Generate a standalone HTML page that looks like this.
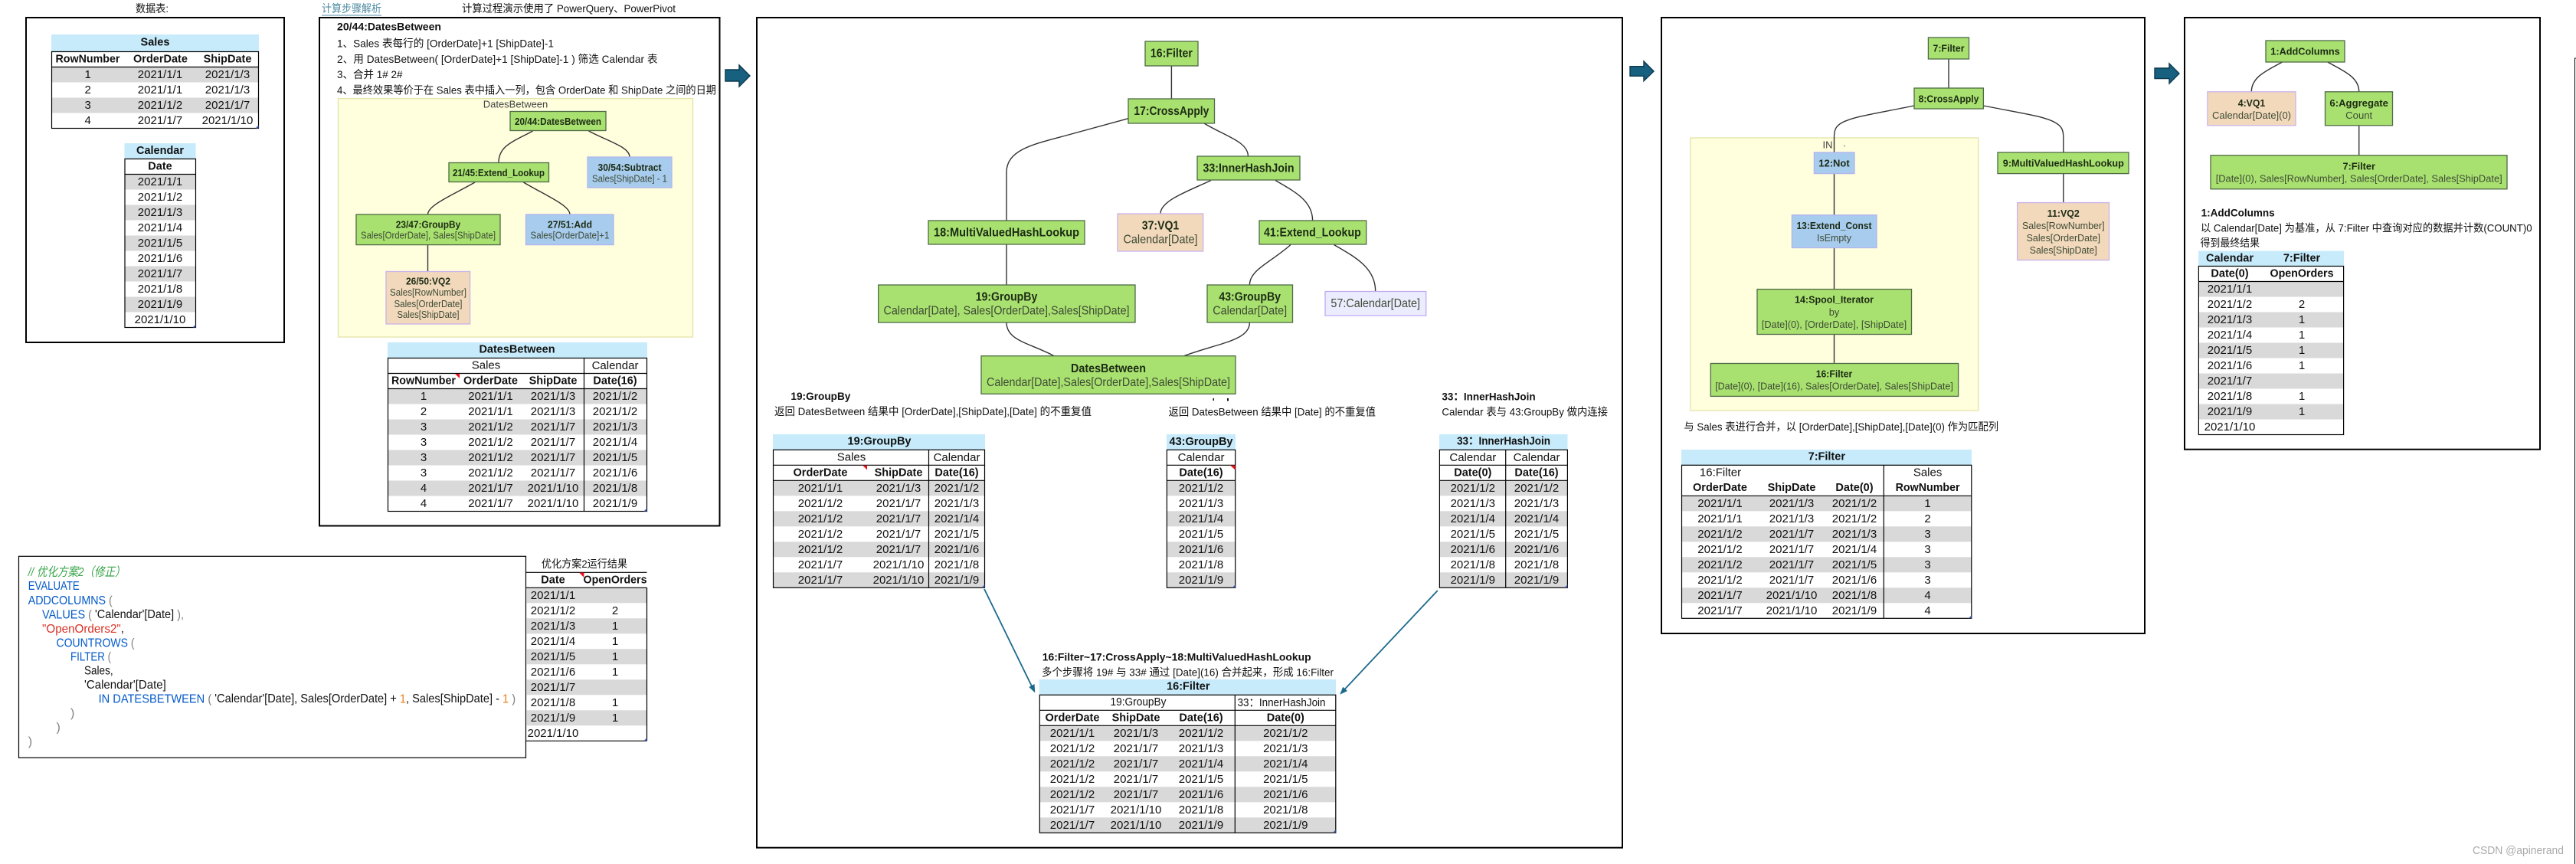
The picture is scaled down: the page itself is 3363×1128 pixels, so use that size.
<!DOCTYPE html>
<html lang="zh"><head><meta charset="utf-8"><title>DatesBetween</title>
<style>
html,body{margin:0;padding:0;background:#fff}
svg{display:block}
text{font-family:"Liberation Sans","Noto Sans CJK SC",sans-serif;dominant-baseline:central;fill:#111}
.m{text-anchor:middle}
.d{font-size:15px;text-anchor:middle}
.b{font-size:14.5px;font-weight:bold;text-anchor:middle}
.l{font-size:14px}
.lb{font-size:14px;font-weight:bold}
.nt{font-size:13px;font-weight:bold;text-anchor:middle;fill:#1c2b14}
.ns{font-size:13px;text-anchor:middle;fill:#3d4a35}
.nb{font-size:16px;font-weight:bold;text-anchor:middle;fill:#1c2b14}
.nr{font-size:16px;text-anchor:middle;fill:#3d4a35}
.box{fill:none;stroke:#000;stroke-width:2}
.n{fill:#a9e170;stroke:#4f6b45;stroke-width:1.3}
.v{fill:#a8ccee;stroke:#b3b3ee;stroke-width:1.3}
.p{fill:#f2d9bc;stroke:#c9b2ea;stroke-width:1.3}
.c{fill:#ececff;stroke:#bfaaf0;stroke-width:1.3}
.y{fill:#ffffde;stroke:#e3e3a8;stroke-width:1.3}
.e{fill:none;stroke:#333;stroke-width:1.4}
.h{fill:#c7ebfb}
.g{fill:#d9d9d9}
.tb{fill:none;stroke:#000;stroke-width:1.2}
.ln{stroke:#000;stroke-width:1.2}
.ar{fill:#17607f;stroke:#0c3a4f;stroke-width:1.4}
.r{fill:#e8121c}
.q{fill:#3f5aa8}
.k{fill:#035aca}
.a{fill:#808080}
.o{fill:#ee7f18}
.co{font-size:16px}
</style></head><body>
<svg xmlns="http://www.w3.org/2000/svg" width="3363" height="1128" viewBox="0 0 3363 1128">
<rect width="3363" height="1128" fill="#fff"/>

<!-- Box A -->
<text class="m" x="198.5" y="11" font-size="14" textLength="43" lengthAdjust="spacingAndGlyphs">数据表:</text>
<rect class="box" x="34" y="23" width="337" height="424"/>
<rect class="h" x="67" y="45" width="271" height="22"/>
<rect class="g" x="67.5" y="87.5" width="270" height="20"/><rect class="g" x="67.5" y="127.5" width="270" height="20"/>
<rect class="tb" x="67.5" y="67.5" width="270" height="100"/><line class="ln" x1="67.5" y1="87.5" x2="337.5" y2="87.5"/>
<text class="b" x="202.5" y="55.5">Sales</text>
<text class="b" x="114.5" y="77.5" textLength="84" lengthAdjust="spacingAndGlyphs">RowNumber</text><text class="b" x="209.5" y="77.5">OrderDate</text><text class="b" x="297" y="77.5">ShipDate</text>
<text class="d" x="114.7" y="97.5">1</text><text class="d" x="209" y="97.5">2021/1/1</text><text class="d" x="297" y="97.5">2021/1/3</text>
<text class="d" x="114.7" y="117.5">2</text><text class="d" x="209" y="117.5">2021/1/1</text><text class="d" x="297" y="117.5">2021/1/3</text>
<text class="d" x="114.7" y="137.5">3</text><text class="d" x="209" y="137.5">2021/1/2</text><text class="d" x="297" y="137.5">2021/1/7</text>
<text class="d" x="114.7" y="157.5">4</text><text class="d" x="209" y="157.5">2021/1/7</text><text class="d" x="297" y="157.5">2021/1/10</text>
<polygon class="q" points="337.5,163.5 337.5,167.5 333.5,167.5"/>

<rect class="h" x="162.5" y="187" width="93" height="20"/>
<rect class="g" x="163" y="227.5" width="92.5" height="20"/><rect class="g" x="163" y="267.5" width="92.5" height="20"/><rect class="g" x="163" y="307.5" width="92.5" height="20"/><rect class="g" x="163" y="347.5" width="92.5" height="20"/><rect class="g" x="163" y="387.5" width="92.5" height="20"/>
<rect class="tb" x="163" y="207.5" width="92.5" height="220"/><line class="ln" x1="163" y1="227.5" x2="255.5" y2="227.5"/>
<text class="b" x="209" y="197">Calendar</text><text class="b" x="209" y="217.5">Date</text>
<text class="d" x="209" y="237.5">2021/1/1</text><text class="d" x="209" y="257.5">2021/1/2</text><text class="d" x="209" y="277.5">2021/1/3</text><text class="d" x="209" y="297.5">2021/1/4</text><text class="d" x="209" y="317.5">2021/1/5</text><text class="d" x="209" y="337.5">2021/1/6</text><text class="d" x="209" y="357.5">2021/1/7</text><text class="d" x="209" y="377.5">2021/1/8</text><text class="d" x="209" y="397.5">2021/1/9</text><text class="d" x="209" y="417.5">2021/1/10</text>
<polygon class="q" points="255.5,423.5 255.5,427.5 251.5,427.5"/>

<!-- Box B -->
<text x="420" y="11" font-size="14" fill="#4f8ca3" style="fill:#4f8ca3" textLength="78" lengthAdjust="spacingAndGlyphs">计算步骤解析</text>
<line x1="420" y1="20" x2="498" y2="20" stroke="#4f8ca3" stroke-width="1"/>
<text x="603" y="11" font-size="14" textLength="279" lengthAdjust="spacingAndGlyphs">计算过程演示使用了 PowerQuery、PowerPivot</text>
<rect class="box" x="417" y="23" width="522.5" height="663.5"/>
<text class="lb" x="440" y="34.5" textLength="136" lengthAdjust="spacingAndGlyphs">20/44:DatesBetween</text>
<text class="l" x="440" y="56.3" textLength="283" lengthAdjust="spacingAndGlyphs">1、Sales 表每行的 [OrderDate]+1 [ShipDate]-1</text>
<text class="l" x="440" y="77" textLength="418.5" lengthAdjust="spacingAndGlyphs">2、用 DatesBetween( [OrderDate]+1 [ShipDate]-1 ) 筛选 Calendar 表</text>
<text class="l" x="440" y="97" textLength="85.5" lengthAdjust="spacingAndGlyphs">3、合并 1# 2#</text>
<text class="l" x="440" y="117.4" textLength="495" lengthAdjust="spacingAndGlyphs">4、最终效果等价于在 Sales 表中插入一列，包含 OrderDate 和 ShipDate 之间的日期</text>
<rect class="y" x="441.5" y="128.6" width="463" height="311.4"/>
<text class="m" x="673" y="136" font-size="13" style="fill:#444">DatesBetween</text>
<path class="e" d="M695.6 171C670 185 651 190 651 212.5"/>
<path class="e" d="M768.5 171C795 185 822 192 822 205"/>
<path class="e" d="M620 238C590 255 558.5 268 558.5 280"/>
<path class="e" d="M683.4 238C712 255 744 268 744 280"/>
<line class="e" x1="558.5" y1="320" x2="558.5" y2="354.5"/>
<rect class="n" x="666" y="145.5" width="125" height="25"/>
<rect class="v" x="767" y="205" width="110" height="40"/>
<rect class="n" x="586" y="212.5" width="130.5" height="25"/>
<rect class="n" x="465" y="280" width="188" height="39.6"/>
<rect class="v" x="686.5" y="280" width="114.5" height="39.6"/>
<rect class="p" x="504" y="354.5" width="109.6" height="68.5"/>
<text class="nt" x="728.5" y="158.5" textLength="113" lengthAdjust="spacingAndGlyphs">20/44:DatesBetween</text>
<text class="nt" x="822" y="218.7" textLength="83" lengthAdjust="spacingAndGlyphs">30/54:Subtract</text>
<text class="ns" x="822" y="233" textLength="98" lengthAdjust="spacingAndGlyphs">Sales[ShipDate] - 1</text>
<text class="nt" x="651" y="225.4" textLength="120" lengthAdjust="spacingAndGlyphs">21/45:Extend_Lookup</text>
<text class="nt" x="559" y="293" textLength="84.5" lengthAdjust="spacingAndGlyphs">23/47:GroupBy</text>
<text class="ns" x="559" y="307" textLength="176" lengthAdjust="spacingAndGlyphs">Sales[OrderDate], Sales[ShipDate]</text>
<text class="nt" x="744" y="293" textLength="58" lengthAdjust="spacingAndGlyphs">27/51:Add</text>
<text class="ns" x="744" y="307" textLength="103" lengthAdjust="spacingAndGlyphs">Sales[OrderDate]+1</text>
<text class="nt" x="559" y="367" textLength="58" lengthAdjust="spacingAndGlyphs">26/50:VQ2</text>
<text class="ns" x="559" y="381.7" textLength="100" lengthAdjust="spacingAndGlyphs">Sales[RowNumber]</text>
<text class="ns" x="559" y="396.4" textLength="89" lengthAdjust="spacingAndGlyphs">Sales[OrderDate]</text>
<text class="ns" x="559" y="410.7" textLength="81" lengthAdjust="spacingAndGlyphs">Sales[ShipDate]</text>

<rect class="h" x="506" y="447" width="339" height="20.5"/>
<rect class="g" x="506.5" y="507.5" width="338" height="20"/><rect class="g" x="506.5" y="547.5" width="338" height="20"/><rect class="g" x="506.5" y="587.5" width="338" height="20"/><rect class="g" x="506.5" y="627.5" width="338" height="20"/>
<rect class="tb" x="506.5" y="467.5" width="338" height="200"/>
<line class="ln" x1="506.5" y1="487.5" x2="844.5" y2="487.5"/><line class="ln" x1="506.5" y1="507.5" x2="844.5" y2="507.5"/><line class="ln" x1="762.5" y1="467.5" x2="762.5" y2="667.5"/>
<polygon class="r" points="594,488 600,488 600,494"/><polygon class="q" points="844.5,663.5 844.5,667.5 840.5,667.5"/>
<text class="b" x="675" y="456.5">DatesBetween</text>
<text class="d" x="634.5" y="477" font-size="14">Sales</text><text class="d" x="803" y="477.5">Calendar</text>
<text class="b" x="553" y="497.5" textLength="84" lengthAdjust="spacingAndGlyphs">RowNumber</text><text class="b" x="640.5" y="497.5">OrderDate</text><text class="b" x="722" y="497.5">ShipDate</text><text class="b" x="803" y="497.5">Date(16)</text>
<text class="d" x="553" y="517.5">1</text><text class="d" x="640.5" y="517.5">2021/1/1</text><text class="d" x="722" y="517.5">2021/1/3</text><text class="d" x="803" y="517.5">2021/1/2</text>
<text class="d" x="553" y="537.5">2</text><text class="d" x="640.5" y="537.5">2021/1/1</text><text class="d" x="722" y="537.5">2021/1/3</text><text class="d" x="803" y="537.5">2021/1/2</text>
<text class="d" x="553" y="557.5">3</text><text class="d" x="640.5" y="557.5">2021/1/2</text><text class="d" x="722" y="557.5">2021/1/7</text><text class="d" x="803" y="557.5">2021/1/3</text>
<text class="d" x="553" y="577.5">3</text><text class="d" x="640.5" y="577.5">2021/1/2</text><text class="d" x="722" y="577.5">2021/1/7</text><text class="d" x="803" y="577.5">2021/1/4</text>
<text class="d" x="553" y="597.5">3</text><text class="d" x="640.5" y="597.5">2021/1/2</text><text class="d" x="722" y="597.5">2021/1/7</text><text class="d" x="803" y="597.5">2021/1/5</text>
<text class="d" x="553" y="617.5">3</text><text class="d" x="640.5" y="617.5">2021/1/2</text><text class="d" x="722" y="617.5">2021/1/7</text><text class="d" x="803" y="617.5">2021/1/6</text>
<text class="d" x="553" y="637.5">4</text><text class="d" x="640.5" y="637.5">2021/1/7</text><text class="d" x="722" y="637.5">2021/1/10</text><text class="d" x="803" y="637.5">2021/1/8</text>
<text class="d" x="553" y="657.5">4</text><text class="d" x="640.5" y="657.5">2021/1/7</text><text class="d" x="722" y="657.5">2021/1/10</text><text class="d" x="803" y="657.5">2021/1/9</text>

<!-- Code box -->
<rect x="24.5" y="726.3" width="662" height="263" fill="#fff" stroke="#000" stroke-width="1.2"/>
<g class="co">
<text x="36.7" y="747.3" font-style="italic" style="fill:#3aa54a" textLength="127" lengthAdjust="spacingAndGlyphs">// 优化方案2（修正）</text>
<text x="36.7" y="765.7" class="k" style="fill:#035aca" textLength="67" lengthAdjust="spacingAndGlyphs">EVALUATE</text>
<text x="36.7" y="784" textLength="110" lengthAdjust="spacingAndGlyphs"><tspan class="k">ADDCOLUMNS</tspan> <tspan class="a">(</tspan></text>
<text x="55" y="802.7" textLength="185" lengthAdjust="spacingAndGlyphs"><tspan class="k">VALUES</tspan> <tspan class="a">(</tspan> 'Calendar'[Date] <tspan class="a">),</tspan></text>
<text x="55" y="821" textLength="107" lengthAdjust="spacingAndGlyphs"><tspan style="fill:#d93124">"OpenOrders2"</tspan>,</text>
<text x="73.5" y="839.3" textLength="102" lengthAdjust="spacingAndGlyphs"><tspan class="k">COUNTROWS</tspan> <tspan class="a">(</tspan></text>
<text x="92" y="857.7" textLength="53" lengthAdjust="spacingAndGlyphs"><tspan class="k">FILTER</tspan> <tspan class="a">(</tspan></text>
<text x="110" y="876" textLength="37.6" lengthAdjust="spacingAndGlyphs">Sales,</text>
<text x="110" y="894.3" textLength="106.8" lengthAdjust="spacingAndGlyphs">'Calendar'[Date]</text>
<text x="128.6" y="912.7" textLength="544.5" lengthAdjust="spacingAndGlyphs"><tspan class="k">IN DATESBETWEEN</tspan> <tspan class="a">(</tspan> 'Calendar'[Date], Sales[OrderDate] + <tspan class="o">1</tspan>, Sales[ShipDate] - <tspan class="o">1</tspan> <tspan class="a">)</tspan></text>
<text x="92" y="931.7" class="a" style="fill:#808080">)</text>
<text x="73.5" y="950" class="a" style="fill:#808080">)</text>
<text x="36.7" y="968.3" class="a" style="fill:#808080">)</text>
</g>
<text x="707" y="736" font-size="14" textLength="112" lengthAdjust="spacingAndGlyphs">优化方案2运行结果</text>
<rect class="g" x="687" y="767.3" width="157.5" height="20"/><rect class="g" x="687" y="807.3" width="157.5" height="20"/><rect class="g" x="687" y="847.3" width="157.5" height="20"/><rect class="g" x="687" y="887.3" width="157.5" height="20"/><rect class="g" x="687" y="927.3" width="157.5" height="20"/>
<line class="ln" x1="687" y1="747.3" x2="844.5" y2="747.3"/><line class="ln" x1="687" y1="767.3" x2="844.5" y2="767.3"/><line class="ln" x1="687" y1="967.3" x2="844.5" y2="967.3"/><line class="ln" x1="844.5" y1="767.3" x2="844.5" y2="967.3"/>
<polygon class="r" points="756,747.5 762.4,747.5 762.4,754"/><polygon class="q" points="844.5,963.3 844.5,967.3 840.5,967.3"/>
<text class="b" x="722" y="757.5">Date</text><text class="b" x="803" y="757.5" textLength="83" lengthAdjust="spacingAndGlyphs">OpenOrders</text>
<text class="d" x="722" y="777.3">2021/1/1</text>
<text class="d" x="722" y="797.3">2021/1/2</text><text class="d" x="803" y="797.3">2</text>
<text class="d" x="722" y="817.3">2021/1/3</text><text class="d" x="803" y="817.3">1</text>
<text class="d" x="722" y="837.3">2021/1/4</text><text class="d" x="803" y="837.3">1</text>
<text class="d" x="722" y="857.3">2021/1/5</text><text class="d" x="803" y="857.3">1</text>
<text class="d" x="722" y="877.3">2021/1/6</text><text class="d" x="803" y="877.3">1</text>
<text class="d" x="722" y="897.3">2021/1/7</text>
<text class="d" x="722" y="917.3">2021/1/8</text><text class="d" x="803" y="917.3">1</text>
<text class="d" x="722" y="937.3">2021/1/9</text><text class="d" x="803" y="937.3">1</text>
<text class="d" x="722" y="957.3">2021/1/10</text>

<!-- Arrows -->
<polygon class="ar" points="947,91 965,91 965,85 979,99 965,113 965,106 947,106"/>
<polygon class="ar" points="2128,86.7 2146,86.7 2146,80 2159,93 2146,105.7 2146,99.3 2128,99.3"/>
<polygon class="ar" points="2813,89 2832,89 2832,83 2845,96 2832,109 2832,102.6 2813,102.6"/>

<!-- Box C -->
<rect class="box" x="988" y="23" width="1130" height="1083.7"/>
<path class="e" d="M1529.4 86V129"/>
<path class="e" d="M1473 154.7L1395 176C1350 188 1314 195 1314 225V288"/>
<path class="e" d="M1572 161C1600 178 1629.4 185 1629.4 204"/>
<path class="e" d="M1581 235.5C1550 250 1515 262 1515 279"/>
<path class="e" d="M1665 235.5C1690 250 1713.6 262 1713.6 288"/>
<path class="e" d="M1685 319.5C1660 342 1631.4 352 1631.4 372"/>
<path class="e" d="M1741.7 319.6C1770 336 1795.7 350 1795.7 380.5"/>
<path class="e" d="M1314 319V372"/>
<path class="e" d="M1314 421C1314 445 1345 448 1376 464.7"/>
<path class="e" d="M1631.4 421C1631.4 445 1590 448 1545.7 464.7"/>
<rect class="n" x="1495" y="54" width="69" height="32"/>
<rect class="n" x="1473" y="129" width="112.5" height="32"/>
<rect class="n" x="1563" y="204" width="134" height="31"/>
<rect class="n" x="1212" y="288" width="204" height="31"/>
<rect class="p" x="1459" y="279" width="111.7" height="49"/>
<rect class="n" x="1644" y="288" width="139.7" height="31"/>
<rect class="c" x="1730" y="380.5" width="131.7" height="31.5"/>
<rect class="n" x="1146.7" y="372" width="335.3" height="49"/>
<rect class="n" x="1576" y="372" width="111.5" height="49"/>
<rect class="n" x="1281" y="464.7" width="332" height="49.6"/>
<text class="nb" x="1529.4" y="70" textLength="55" lengthAdjust="spacingAndGlyphs">16:Filter</text>
<text class="nb" x="1529.4" y="145.7" textLength="98" lengthAdjust="spacingAndGlyphs">17:CrossApply</text>
<text class="nb" x="1630" y="220" textLength="119" lengthAdjust="spacingAndGlyphs">33:InnerHashJoin</text>
<text class="nb" x="1314" y="304" textLength="190" lengthAdjust="spacingAndGlyphs">18:MultiValuedHashLookup</text>
<text class="nb" x="1515" y="295" textLength="48.5" lengthAdjust="spacingAndGlyphs">37:VQ1</text>
<text class="nr" x="1515" y="313" textLength="97" lengthAdjust="spacingAndGlyphs">Calendar[Date]</text>
<text class="nb" x="1713.4" y="304" textLength="126.7" lengthAdjust="spacingAndGlyphs">41:Extend_Lookup</text>
<text class="nr" x="1795.7" y="396.7" textLength="116.7" lengthAdjust="spacingAndGlyphs">57:Calendar[Date]</text>
<text class="nb" x="1314" y="388" textLength="80.6" lengthAdjust="spacingAndGlyphs">19:GroupBy</text>
<text class="nr" x="1314" y="406" textLength="321" lengthAdjust="spacingAndGlyphs">Calendar[Date], Sales[OrderDate],Sales[ShipDate]</text>
<text class="nb" x="1631.7" y="388" textLength="80.6" lengthAdjust="spacingAndGlyphs">43:GroupBy</text>
<text class="nr" x="1631.7" y="406" textLength="97" lengthAdjust="spacingAndGlyphs">Calendar[Date]</text>
<text class="nb" x="1447" y="481.7" textLength="98" lengthAdjust="spacingAndGlyphs">DatesBetween</text>
<text class="nr" x="1447" y="499.3" textLength="318" lengthAdjust="spacingAndGlyphs">Calendar[Date],Sales[OrderDate],Sales[ShipDate]</text>
<rect x="1583.5" y="520" width="1.5" height="3" fill="#111"/><rect x="1602" y="520" width="2" height="3.5" fill="#111"/>

<text class="lb" x="1032.4" y="517" textLength="78" lengthAdjust="spacingAndGlyphs">19:GroupBy</text>
<text class="l" x="1011" y="537" textLength="414" lengthAdjust="spacingAndGlyphs">返回 DatesBetween 结果中 [OrderDate],[ShipDate],[Date] 的不重复值</text>
<text class="l" x="1525.5" y="537.3" textLength="270.5" lengthAdjust="spacingAndGlyphs">返回 DatesBetween 结果中 [Date] 的不重复值</text>
<text class="lb" x="1882.4" y="517.3" textLength="122.3" lengthAdjust="spacingAndGlyphs">33：InnerHashJoin</text>
<text class="l" x="1882.4" y="537.3" textLength="216.6" lengthAdjust="spacingAndGlyphs">Calendar 表与 43:GroupBy 做内连接</text>

<!-- 19:GroupBy table -->
<rect class="h" x="1009" y="567" width="277" height="20"/>
<rect class="g" x="1009.5" y="627.3" width="276" height="20"/><rect class="g" x="1009.5" y="667.3" width="276" height="20"/><rect class="g" x="1009.5" y="707.3" width="276" height="20"/><rect class="g" x="1009.5" y="747.3" width="276" height="20"/>
<rect class="tb" x="1009.5" y="587.3" width="276" height="180"/>
<line class="ln" x1="1009.5" y1="607.3" x2="1285.5" y2="607.3"/><line class="ln" x1="1009.5" y1="627.3" x2="1285.5" y2="627.3"/><line class="ln" x1="1212.5" y1="587.3" x2="1212.5" y2="767.3"/>
<polygon class="r" points="1126,607.5 1132,607.5 1132,613.5"/><polygon class="q" points="1285.5,763.3 1285.5,767.3 1281.5,767.3"/>
<text class="b" x="1148" y="576.5">19:GroupBy</text>
<text class="d" x="1111.5" y="597" font-size="14">Sales</text><text class="d" x="1249" y="597.3">Calendar</text>
<text class="b" x="1071" y="617.3">OrderDate</text><text class="b" x="1173" y="617.3">ShipDate</text><text class="b" x="1249" y="617.3">Date(16)</text>
<text class="d" x="1071" y="637.3">2021/1/1</text><text class="d" x="1173" y="637.3">2021/1/3</text><text class="d" x="1249" y="637.3">2021/1/2</text>
<text class="d" x="1071" y="657.3">2021/1/2</text><text class="d" x="1173" y="657.3">2021/1/7</text><text class="d" x="1249" y="657.3">2021/1/3</text>
<text class="d" x="1071" y="677.3">2021/1/2</text><text class="d" x="1173" y="677.3">2021/1/7</text><text class="d" x="1249" y="677.3">2021/1/4</text>
<text class="d" x="1071" y="697.3">2021/1/2</text><text class="d" x="1173" y="697.3">2021/1/7</text><text class="d" x="1249" y="697.3">2021/1/5</text>
<text class="d" x="1071" y="717.3">2021/1/2</text><text class="d" x="1173" y="717.3">2021/1/7</text><text class="d" x="1249" y="717.3">2021/1/6</text>
<text class="d" x="1071" y="737.3">2021/1/7</text><text class="d" x="1173" y="737.3">2021/1/10</text><text class="d" x="1249" y="737.3">2021/1/8</text>
<text class="d" x="1071" y="757.3">2021/1/7</text><text class="d" x="1173" y="757.3">2021/1/10</text><text class="d" x="1249" y="757.3">2021/1/9</text>

<!-- 43:GroupBy table -->
<rect class="h" x="1523" y="567" width="90" height="20"/>
<rect class="g" x="1523.4" y="627.3" width="89.3" height="20"/><rect class="g" x="1523.4" y="667.3" width="89.3" height="20"/><rect class="g" x="1523.4" y="707.3" width="89.3" height="20"/><rect class="g" x="1523.4" y="747.3" width="89.3" height="20"/>
<rect class="tb" x="1523.4" y="587.3" width="89.3" height="180"/>
<line class="ln" x1="1523.4" y1="607.3" x2="1612.7" y2="607.3"/><line class="ln" x1="1523.4" y1="627.3" x2="1612.7" y2="627.3"/>
<polygon class="r" points="1606,607.5 1612.5,607.5 1612.5,613.5"/><polygon class="q" points="1612.7,763.3 1612.7,767.3 1608.7,767.3"/>
<text class="b" x="1568" y="577">43:GroupBy</text><text class="d" x="1568" y="597.3">Calendar</text><text class="b" x="1568" y="617.3">Date(16)</text>
<text class="d" x="1568" y="637.3">2021/1/2</text><text class="d" x="1568" y="657.3">2021/1/3</text><text class="d" x="1568" y="677.3">2021/1/4</text><text class="d" x="1568" y="697.3">2021/1/5</text><text class="d" x="1568" y="717.3">2021/1/6</text><text class="d" x="1568" y="737.3">2021/1/8</text><text class="d" x="1568" y="757.3">2021/1/9</text>

<!-- 33 table -->
<rect class="h" x="1879" y="567" width="167.5" height="20"/>
<rect class="g" x="1879.4" y="627.3" width="167" height="20"/><rect class="g" x="1879.4" y="667.3" width="167" height="20"/><rect class="g" x="1879.4" y="707.3" width="167" height="20"/><rect class="g" x="1879.4" y="747.3" width="167" height="20"/>
<rect class="tb" x="1879.4" y="587.3" width="167" height="180"/>
<line class="ln" x1="1879.4" y1="607.3" x2="2046.4" y2="607.3"/><line class="ln" x1="1879.4" y1="627.3" x2="2046.4" y2="627.3"/><line class="ln" x1="1965.7" y1="587.3" x2="1965.7" y2="767.3"/>
<polygon class="q" points="2046.4,763.3 2046.4,767.3 2042.4,767.3"/>
<text class="b" x="1963" y="576.5" textLength="122" lengthAdjust="spacingAndGlyphs">33：InnerHashJoin</text>
<text class="d" x="1922.8" y="597.3">Calendar</text><text class="d" x="2006" y="597.3">Calendar</text>
<text class="b" x="1922.8" y="617.3">Date(0)</text><text class="b" x="2006" y="617.3">Date(16)</text>
<text class="d" x="1922.8" y="637.3">2021/1/2</text><text class="d" x="2006" y="637.3">2021/1/2</text>
<text class="d" x="1922.8" y="657.3">2021/1/3</text><text class="d" x="2006" y="657.3">2021/1/3</text>
<text class="d" x="1922.8" y="677.3">2021/1/4</text><text class="d" x="2006" y="677.3">2021/1/4</text>
<text class="d" x="1922.8" y="697.3">2021/1/5</text><text class="d" x="2006" y="697.3">2021/1/5</text>
<text class="d" x="1922.8" y="717.3">2021/1/6</text><text class="d" x="2006" y="717.3">2021/1/6</text>
<text class="d" x="1922.8" y="737.3">2021/1/8</text><text class="d" x="2006" y="737.3">2021/1/8</text>
<text class="d" x="1922.8" y="757.3">2021/1/9</text><text class="d" x="2006" y="757.3">2021/1/9</text>

<!-- teal arrows -->
<line x1="1285" y1="769" x2="1348" y2="898" stroke="#1b6a8c" stroke-width="1.8"/>
<polygon fill="#1b6a8c" points="1351.3,904.5 1350.5,893 1343.3,897"/>
<line x1="1876.8" y1="771" x2="1754" y2="901.5" stroke="#1b6a8c" stroke-width="1.8"/>
<polygon fill="#1b6a8c" points="1749.3,906.7 1759,902.1 1753.2,896.7"/>

<!-- 16:Filter table -->
<text class="lb" x="1360.7" y="857.7" textLength="351" lengthAdjust="spacingAndGlyphs">16:Filter~17:CrossApply~18:MultiValuedHashLookup</text>
<text class="l" x="1360" y="877.3" textLength="381" lengthAdjust="spacingAndGlyphs">多个步骤将 19# 与 33# 通过 [Date](16) 合并起来，形成 16:Filter</text>
<rect class="h" x="1356.7" y="887" width="387.3" height="20.3"/>
<rect class="g" x="1357.3" y="947.3" width="386.5" height="20"/><rect class="g" x="1357.3" y="987.3" width="386.5" height="20"/><rect class="g" x="1357.3" y="1027.3" width="386.5" height="20"/><rect class="g" x="1357.3" y="1067.3" width="386.5" height="20"/>
<rect class="tb" x="1357.3" y="907.3" width="386.5" height="180"/>
<line class="ln" x1="1357.3" y1="927.3" x2="1743.8" y2="927.3"/><line class="ln" x1="1357.3" y1="947.3" x2="1743.8" y2="947.3"/><line class="ln" x1="1612.3" y1="907.3" x2="1612.3" y2="1087.3"/>
<polygon class="q" points="1743.8,1083.3 1743.8,1087.3 1739.8,1087.3"/>
<text class="b" x="1551.3" y="896.5">16:Filter</text>
<text class="d" x="1486" y="916.7" textLength="73" lengthAdjust="spacingAndGlyphs">19:GroupBy</text><text class="d" x="1673" y="917.3" textLength="115" lengthAdjust="spacingAndGlyphs">33：InnerHashJoin</text>
<text class="b" x="1400" y="937.3">OrderDate</text><text class="b" x="1483" y="937.3">ShipDate</text><text class="b" x="1568" y="937.3">Date(16)</text><text class="b" x="1678.3" y="937.3">Date(0)</text>
<text class="d" x="1400" y="957.3">2021/1/1</text><text class="d" x="1483" y="957.3">2021/1/3</text><text class="d" x="1568" y="957.3">2021/1/2</text><text class="d" x="1678.3" y="957.3">2021/1/2</text>
<text class="d" x="1400" y="977.3">2021/1/2</text><text class="d" x="1483" y="977.3">2021/1/7</text><text class="d" x="1568" y="977.3">2021/1/3</text><text class="d" x="1678.3" y="977.3">2021/1/3</text>
<text class="d" x="1400" y="997.3">2021/1/2</text><text class="d" x="1483" y="997.3">2021/1/7</text><text class="d" x="1568" y="997.3">2021/1/4</text><text class="d" x="1678.3" y="997.3">2021/1/4</text>
<text class="d" x="1400" y="1017.3">2021/1/2</text><text class="d" x="1483" y="1017.3">2021/1/7</text><text class="d" x="1568" y="1017.3">2021/1/5</text><text class="d" x="1678.3" y="1017.3">2021/1/5</text>
<text class="d" x="1400" y="1037.3">2021/1/2</text><text class="d" x="1483" y="1037.3">2021/1/7</text><text class="d" x="1568" y="1037.3">2021/1/6</text><text class="d" x="1678.3" y="1037.3">2021/1/6</text>
<text class="d" x="1400" y="1057.3">2021/1/7</text><text class="d" x="1483" y="1057.3">2021/1/10</text><text class="d" x="1568" y="1057.3">2021/1/8</text><text class="d" x="1678.3" y="1057.3">2021/1/8</text>
<text class="d" x="1400" y="1077.3">2021/1/7</text><text class="d" x="1483" y="1077.3">2021/1/10</text><text class="d" x="1568" y="1077.3">2021/1/9</text><text class="d" x="1678.3" y="1077.3">2021/1/9</text>

<!-- Box D -->
<rect class="box" x="2169" y="23" width="631" height="804"/>
<rect class="y" x="2206.8" y="180" width="375.9" height="356"/>
<path class="e" d="M2544 77V115"/>
<path class="e" d="M2499 138C2450 148 2420 152 2405 160C2396 165 2394.5 170 2394.5 180V199"/>
<path class="e" d="M2589.4 138C2640 148 2670 152 2683 160C2692 165 2693.8 170 2693.8 180V199"/>
<path class="e" d="M2394.5 226V281M2394.5 323V377M2394.5 436V474.5M2693.8 226V264.6"/>
<rect class="n" x="2517.4" y="49" width="53.1" height="28"/>
<rect class="n" x="2499" y="115" width="90.4" height="27"/>
<rect class="v" x="2368.4" y="199" width="52.6" height="27.6"/>
<rect class="n" x="2608" y="199" width="171" height="27.6"/>
<rect class="p" x="2633.6" y="264.6" width="119.9" height="75"/>
<rect class="v" x="2339.4" y="280.7" width="110.6" height="42.8"/>
<rect class="n" x="2294" y="377.6" width="201.5" height="58.9"/>
<rect class="n" x="2233.3" y="474.5" width="323.3" height="42.9"/>
<text class="m" x="2386" y="189" font-size="13" style="fill:#444">IN</text><rect x="2407.5" y="190" width="1.2" height="1.2" fill="#444"/>
<text class="nt" x="2544" y="63" textLength="41" lengthAdjust="spacingAndGlyphs">7:Filter</text>
<text class="nt" x="2544" y="129" textLength="78.7" lengthAdjust="spacingAndGlyphs">8:CrossApply</text>
<text class="nt" x="2394.5" y="213" textLength="40.4" lengthAdjust="spacingAndGlyphs">12:Not</text>
<text class="nt" x="2693.8" y="213" textLength="158" lengthAdjust="spacingAndGlyphs">9:MultiValuedHashLookup</text>
<text class="nt" x="2693.8" y="278.5" textLength="42" lengthAdjust="spacingAndGlyphs">11:VQ2</text>
<text class="ns" x="2693.8" y="294.6" textLength="107.7" lengthAdjust="spacingAndGlyphs">Sales[RowNumber]</text>
<text class="ns" x="2693.8" y="310.7" textLength="96.4" lengthAdjust="spacingAndGlyphs">Sales[OrderDate]</text>
<text class="ns" x="2693.8" y="326.7" textLength="88" lengthAdjust="spacingAndGlyphs">Sales[ShipDate]</text>
<text class="nt" x="2394.5" y="294.6" textLength="98" lengthAdjust="spacingAndGlyphs">13:Extend_Const</text>
<text class="ns" x="2394.5" y="310.7" textLength="45" lengthAdjust="spacingAndGlyphs">IsEmpty</text>
<text class="nt" x="2394.5" y="391" textLength="103" lengthAdjust="spacingAndGlyphs">14:Spool_Iterator</text>
<text class="ns" x="2394.5" y="407.6" textLength="13.5" lengthAdjust="spacingAndGlyphs">by</text>
<text class="ns" x="2394.5" y="423.7" textLength="189.4" lengthAdjust="spacingAndGlyphs">[Date](0), [OrderDate], [ShipDate]</text>
<text class="nt" x="2394.5" y="488" textLength="47.6" lengthAdjust="spacingAndGlyphs">16:Filter</text>
<text class="ns" x="2394.5" y="504" textLength="310.6" lengthAdjust="spacingAndGlyphs">[Date](0), [Date](16), Sales[OrderDate], Sales[ShipDate]</text>
<text class="l" x="2198.4" y="557" textLength="410.6" lengthAdjust="spacingAndGlyphs">与 Sales 表进行合并，以 [OrderDate],[ShipDate],[Date](0) 作为匹配列</text>

<rect class="h" x="2195" y="587" width="379" height="20.4"/>
<rect class="g" x="2195.5" y="647.3" width="378.3" height="20"/><rect class="g" x="2195.5" y="687.3" width="378.3" height="20"/><rect class="g" x="2195.5" y="727.3" width="378.3" height="20"/><rect class="g" x="2195.5" y="767.3" width="378.3" height="20"/>
<rect class="tb" x="2195.5" y="607.3" width="378.3" height="200"/>
<line class="ln" x1="2195.5" y1="647.3" x2="2573.8" y2="647.3"/><line class="ln" x1="2459.3" y1="607.3" x2="2459.3" y2="807.3"/>
<polygon class="q" points="2573.8,803.3 2573.8,807.3 2569.8,807.3"/>
<text class="b" x="2384.8" y="596.5">7:Filter</text>
<text class="d" x="2246" y="617">16:Filter</text><text class="d" x="2516.6" y="617">Sales</text>
<text class="b" x="2245.5" y="637">OrderDate</text><text class="b" x="2339" y="637">ShipDate</text><text class="b" x="2421" y="637">Date(0)</text><text class="b" x="2516.6" y="637" textLength="84" lengthAdjust="spacingAndGlyphs">RowNumber</text>
<text class="d" x="2245.5" y="657.3">2021/1/1</text><text class="d" x="2339" y="657.3">2021/1/3</text><text class="d" x="2421" y="657.3">2021/1/2</text><text class="d" x="2516.6" y="657.3">1</text>
<text class="d" x="2245.5" y="677.3">2021/1/1</text><text class="d" x="2339" y="677.3">2021/1/3</text><text class="d" x="2421" y="677.3">2021/1/2</text><text class="d" x="2516.6" y="677.3">2</text>
<text class="d" x="2245.5" y="697.3">2021/1/2</text><text class="d" x="2339" y="697.3">2021/1/7</text><text class="d" x="2421" y="697.3">2021/1/3</text><text class="d" x="2516.6" y="697.3">3</text>
<text class="d" x="2245.5" y="717.3">2021/1/2</text><text class="d" x="2339" y="717.3">2021/1/7</text><text class="d" x="2421" y="717.3">2021/1/4</text><text class="d" x="2516.6" y="717.3">3</text>
<text class="d" x="2245.5" y="737.3">2021/1/2</text><text class="d" x="2339" y="737.3">2021/1/7</text><text class="d" x="2421" y="737.3">2021/1/5</text><text class="d" x="2516.6" y="737.3">3</text>
<text class="d" x="2245.5" y="757.3">2021/1/2</text><text class="d" x="2339" y="757.3">2021/1/7</text><text class="d" x="2421" y="757.3">2021/1/6</text><text class="d" x="2516.6" y="757.3">3</text>
<text class="d" x="2245.5" y="777.3">2021/1/7</text><text class="d" x="2339" y="777.3">2021/1/10</text><text class="d" x="2421" y="777.3">2021/1/8</text><text class="d" x="2516.6" y="777.3">4</text>
<text class="d" x="2245.5" y="797.3">2021/1/7</text><text class="d" x="2339" y="797.3">2021/1/10</text><text class="d" x="2421" y="797.3">2021/1/9</text><text class="d" x="2516.6" y="797.3">4</text>

<!-- Box E -->
<rect class="box" x="2852" y="23" width="464" height="563.7"/>
<path class="e" d="M2979.5 81C2960 92 2939.3 100 2939.3 119.8"/>
<path class="e" d="M3038.8 81C3058 92 3079.7 100 3079.7 119.8"/>
<path class="e" d="M3079.7 163.8V202.8"/>
<rect class="n" x="2958" y="53" width="103" height="28"/>
<rect class="p" x="2881.9" y="119.8" width="115.1" height="44"/>
<rect class="n" x="3035.5" y="119.8" width="88" height="44"/>
<rect class="n" x="2886" y="202.8" width="387" height="44"/>
<text class="nt" x="3009.5" y="67" textLength="90.5" lengthAdjust="spacingAndGlyphs">1:AddColumns</text>
<text class="nt" x="2939.5" y="134.3" textLength="35.5" lengthAdjust="spacingAndGlyphs">4:VQ1</text>
<text class="ns" x="2939.5" y="150.4" textLength="103" lengthAdjust="spacingAndGlyphs">Calendar[Date](0)</text>
<text class="nt" x="3079.7" y="134.3" textLength="76.5" lengthAdjust="spacingAndGlyphs">6:Aggregate</text>
<text class="ns" x="3079.7" y="150.4" textLength="35" lengthAdjust="spacingAndGlyphs">Count</text>
<text class="nt" x="3079.7" y="217" textLength="42.4" lengthAdjust="spacingAndGlyphs">7:Filter</text>
<text class="ns" x="3079.7" y="233" textLength="374" lengthAdjust="spacingAndGlyphs">[Date](0), Sales[RowNumber], Sales[OrderDate], Sales[ShipDate]</text>
<text class="lb" x="2873.6" y="277.5" textLength="96" lengthAdjust="spacingAndGlyphs">1:AddColumns</text>
<text class="l" x="2873" y="297.4" textLength="432.6" lengthAdjust="spacingAndGlyphs">以 Calendar[Date] 为基准，从 7:Filter 中查询对应的数据并计数(COUNT)0</text>
<text class="l" x="2872.5" y="316.9" textLength="77.5" lengthAdjust="spacingAndGlyphs">得到最终结果</text>
<rect class="h" x="2870" y="327.6" width="190" height="20"/>
<rect class="g" x="2870.4" y="367.5" width="189.2" height="20"/><rect class="g" x="2870.4" y="407.5" width="189.2" height="20"/><rect class="g" x="2870.4" y="447.5" width="189.2" height="20"/><rect class="g" x="2870.4" y="487.5" width="189.2" height="20"/><rect class="g" x="2870.4" y="527.5" width="189.2" height="20"/>
<rect class="tb" x="2870.4" y="347.5" width="189.2" height="220"/>
<line class="ln" x1="2870.4" y1="367.5" x2="3059.6" y2="367.5"/>
<text class="b" x="2911" y="337.3">Calendar</text><text class="b" x="3005" y="337.3">7:Filter</text>
<text class="b" x="2911" y="357.3">Date(0)</text><text class="b" x="3005" y="357.3" textLength="83" lengthAdjust="spacingAndGlyphs">OpenOrders</text>
<text class="d" x="2911" y="377.3">2021/1/1</text>
<text class="d" x="2911" y="397.3">2021/1/2</text><text class="d" x="3005" y="397.3">2</text>
<text class="d" x="2911" y="417.3">2021/1/3</text><text class="d" x="3005" y="417.3">1</text>
<text class="d" x="2911" y="437.3">2021/1/4</text><text class="d" x="3005" y="437.3">1</text>
<text class="d" x="2911" y="457.3">2021/1/5</text><text class="d" x="3005" y="457.3">1</text>
<text class="d" x="2911" y="477.3">2021/1/6</text><text class="d" x="3005" y="477.3">1</text>
<text class="d" x="2911" y="497.3">2021/1/7</text>
<text class="d" x="2911" y="517.3">2021/1/8</text><text class="d" x="3005" y="517.3">1</text>
<text class="d" x="2911" y="537.3">2021/1/9</text><text class="d" x="3005" y="537.3">1</text>
<text class="d" x="2911" y="557.3">2021/1/10</text>

<path d="M3361.5 76V1128M3361.5 76H3363" fill="none" stroke="#000" stroke-width="1"/>
<text x="3228" y="1111" font-size="14.5" style="fill:#aaa" textLength="119" lengthAdjust="spacingAndGlyphs">CSDN @apinerand</text>
</svg>
</body></html>
